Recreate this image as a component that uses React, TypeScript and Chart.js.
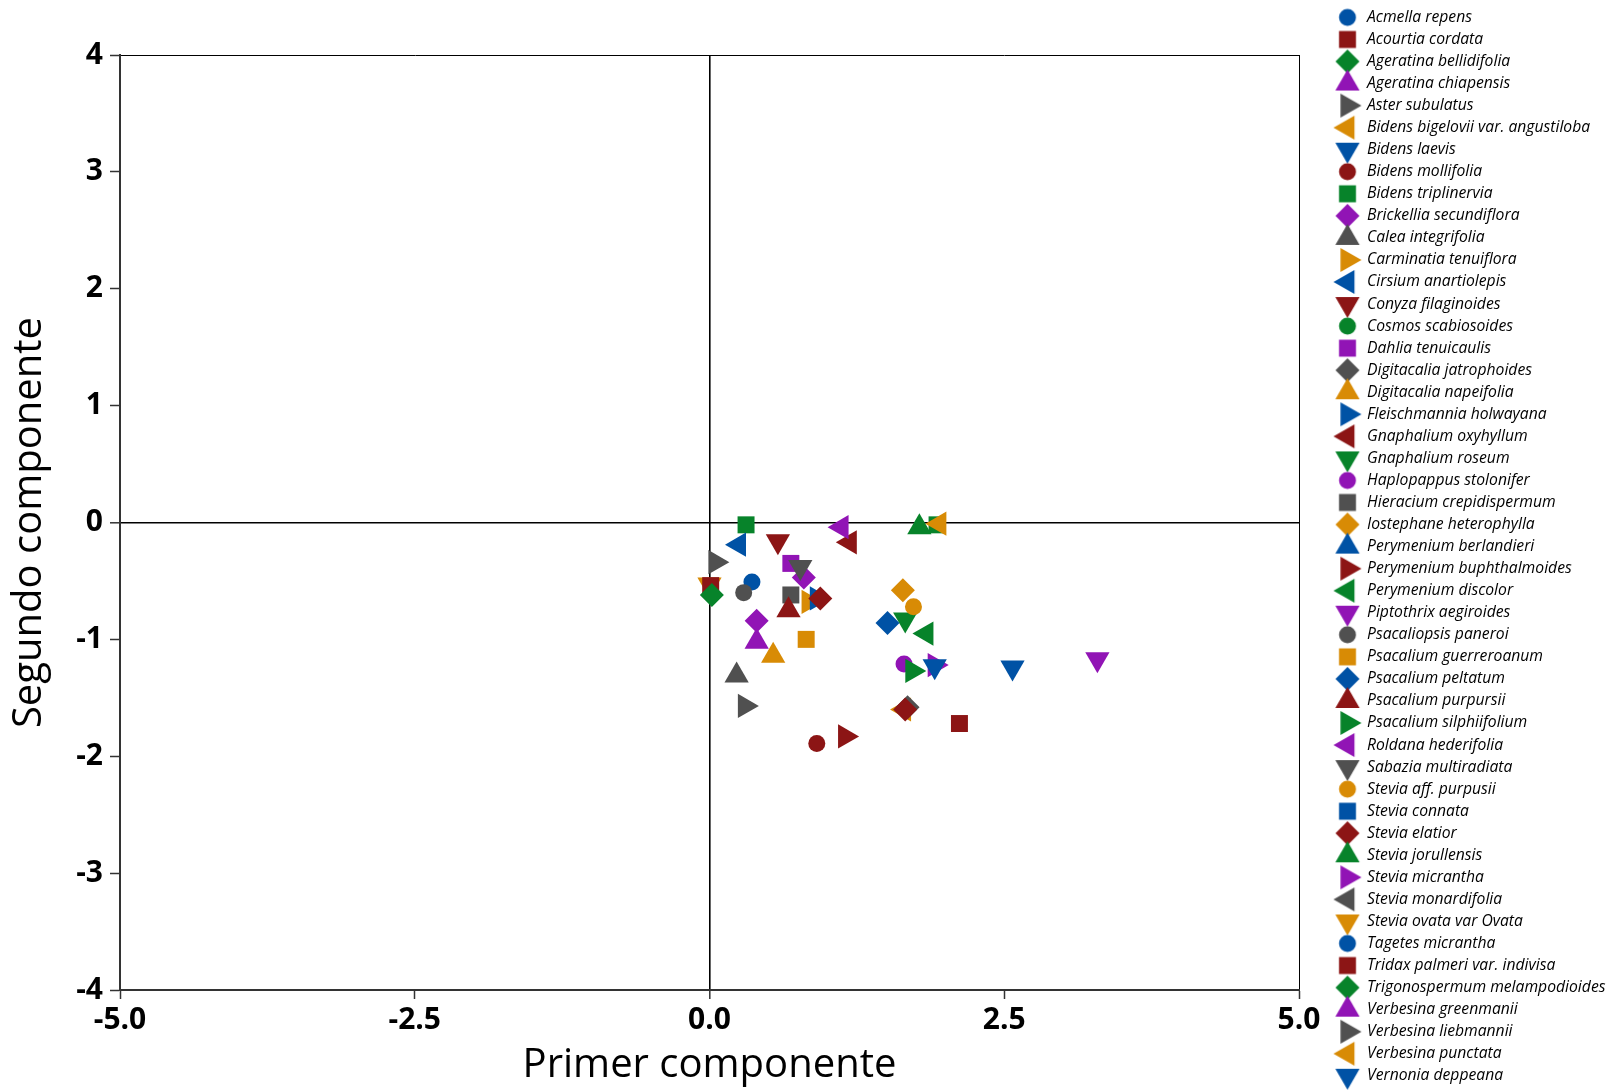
import React, { useEffect, useRef } from 'react';
import { Chart, registerables } from 'chart.js';
import { drawPoint } from 'chart.js/helpers';

Chart.register(...registerables);

// ---------- data ----------
const speciesNames: string[] = [
  'Acmella repens',
  'Acourtia cordata',
  'Ageratina bellidifolia',
  'Ageratina chiapensis',
  'Aster subulatus',
  'Bidens bigelovii var. angustiloba',
  'Bidens laevis',
  'Bidens mollifolia',
  'Bidens triplinervia',
  'Brickellia secundiflora',
  'Calea integrifolia',
  'Carminatia tenuiflora',
  'Cirsium anartiolepis',
  'Conyza filaginoides',
  'Cosmos scabiosoides',
  'Dahlia tenuicaulis',
  'Digitacalia jatrophoides',
  'Digitacalia napeifolia',
  'Fleischmannia holwayana',
  'Gnaphalium oxyhyllum',
  'Gnaphalium roseum',
  'Haplopappus stolonifer',
  'Hieracium crepidispermum',
  'Iostephane heterophylla',
  'Perymenium berlandieri',
  'Perymenium buphthalmoides',
  'Perymenium discolor',
  'Piptothrix aegiroides',
  'Psacaliopsis paneroi',
  'Psacalium guerreroanum',
  'Psacalium peltatum',
  'Psacalium purpursii',
  'Psacalium silphiifolium',
  'Roldana hederifolia',
  'Sabazia multiradiata',
  'Stevia aff. purpusii',
  'Stevia connata',
  'Stevia elatior',
  'Stevia jorullensis',
  'Stevia micrantha',
  'Stevia monardifolia',
  'Stevia ovata var Ovata',
  'Tagetes micrantha',
  'Tridax palmeri var. indivisa',
  'Trigonospermum melampodioides',
  'Verbesina greenmanii',
  'Verbesina liebmannii',
  'Verbesina punctata',
  'Vernonia deppeana',
];

// first principal component (x) per species
const pc1: number[][] = [
  [0.36], [2.12], [], [0.40], [0.05], [1.65], [2.57], [0.91], [0.31, 1.93], [0.80, 0.40],
  [0.23], [0.84], [0.25], [0.58], [], [0.69], [1.68], [0.54], [0.91], [1.19],
  [1.66], [1.65], [0.69], [1.64], [], [1.15], [1.84], [3.29], [0.29], [0.82],
  [1.51], [0.67], [1.72], [1.12], [0.77], [1.73], [], [0.94, 1.66], [1.78], [1.91],
  [], [0.00], [], [0.01], [0.02], [], [0.30], [1.95], [1.91],
];

// second principal component (y) per species
const pc2: number[][] = [
  [-0.51], [-1.72], [], [-1.02], [-0.34], [-1.60], [-1.24], [-1.89], [-0.02, -0.02], [-0.47, -0.84],
  [-1.31], [-0.68], [-0.19], [-0.16], [], [-0.35], [-1.58], [-1.14], [-0.65], [-0.17],
  [-0.83], [-1.21], [-0.62], [-0.58], [], [-1.83], [-0.95], [-1.17], [-0.60], [-1.00],
  [-0.86], [-0.75], [-1.27], [-0.04], [-0.38], [-0.72], [], [-0.65, -1.60], [-0.04], [-1.22],
  [], [-0.53], [], [-0.54], [-0.62], [], [-1.57], [-0.01], [-1.23],
];

const xTickValues: number[] = [-5, -2.5, 0, 2.5, 5];
const xTickLabels: string[] = ['-5.0', '-2.5', '0.0', '2.5', '5.0'];
const yTickValues: number[] = [-4, -3, -2, -1, 0, 1, 2, 3, 4];
const yTickLabels: string[] = ['-4', '-3', '-2', '-1', '0', '1', '2', '3', '4'];

// ---------- styles ----------
const palette: string[] = ['#0052A5', '#8C1515', '#07832A', '#9114B5', '#505050', '#D88B05'];
const markerCycle = [
  { style: 'circle', rotation: 0, radius: 8.5 },
  { style: 'rect', rotation: 0, radius: 12 },
  { style: 'rectRot', rotation: 0, radius: 12 },
  { style: 'triangle', rotation: 0, radius: 14 },
  { style: 'triangle', rotation: 90, radius: 14 },
  { style: 'triangle', rotation: 270, radius: 14 },
  { style: 'triangle', rotation: 180, radius: 14 },
];

const FONT = "'Open Sans', 'Noto Sans', sans-serif";
const LEGEND_ICON_SHIFT = 15.25;

function makeIcon(color: string, m: { style: string; rotation: number; radius: number }) {
  const c = document.createElement('canvas');
  c.width = 80;
  c.height = 32;
  const ctx = c.getContext('2d')!;
  ctx.fillStyle = color;
  ctx.strokeStyle = color;
  drawPoint(
    ctx,
    { pointStyle: m.style as any, rotation: m.rotation, radius: m.radius, borderWidth: 0 },
    40 + LEGEND_ICON_SHIFT,
    16
  );
  return c;
}

export default function App() {
  const canvasRef = useRef<HTMLCanvasElement | null>(null);

  useEffect(() => {
    document.body.style.margin = '0';
    const canvas = canvasRef.current;
    if (!canvas) return;

    const icons = speciesNames.map((_, i) => makeIcon(palette[i % 6], markerCycle[i % 7]));

    const datasets = speciesNames.map((name, i) => {
      const m = markerCycle[i % 7];
      const color = palette[i % 6];
      return {
        label: name,
        data: pc1[i].map((x, k) => ({ x, y: pc2[i][k] })),
        pointStyle: m.style,
        pointRotation: m.rotation,
        pointRadius: m.radius,
        pointHoverRadius: m.radius,
        backgroundColor: color,
        borderColor: color,
        pointBorderWidth: 0,
        showLine: false,
        order: -i,
        xAxisID: 'x',
        yAxisID: 'y',
      };
    });

    const chart = new Chart(canvas, {
      type: 'scatter',
      data: { datasets: datasets as any },
      options: {
        animation: false,
        responsive: false,
        devicePixelRatio: 1,
        layout: { padding: { left: 0, top: 0, bottom: 0, right: 4 } },
        plugins: {
          tooltip: { enabled: false },
          legend: {
            display: true,
            position: 'right',
            align: 'end',
            maxWidth: 311,
            labels: {
              usePointStyle: true,
              pointStyleWidth: 53.8,
              padding: 6.35,
              color: '#000',
              font: { family: FONT, style: 'italic', size: 15.7 },
              generateLabels: (ch: any) =>
                ch.data.datasets.map((ds: any, i: number) => ({
                  text: ds.label,
                  pointStyle: icons[i],
                  rotation: 0,
                  fillStyle: ds.backgroundColor,
                  strokeStyle: ds.borderColor,
                  lineWidth: 0,
                  hidden: false,
                  datasetIndex: i,
                  fontColor: '#000',
                })),
            },
          },
        },
        scales: {
          x: {
            type: 'linear',
            position: 'bottom',
            min: -5,
            max: 5,
            afterBuildTicks: (s: any) => {
              s.ticks = xTickValues.map((v) => ({ value: v }));
            },
            ticks: {
              autoSkip: false,
              maxRotation: 0,
              padding: 3,
              color: '#000',
              font: { family: FONT, weight: 'bold', size: 30 },
              callback: (_v: any, idx: number) => xTickLabels[idx],
            },
            grid: {
              drawOnChartArea: true,
              drawTicks: true,
              tickLength: 9,
              tickColor: '#333',
              tickWidth: 1.5,
              color: (c: any) =>
                c.tick && (c.tick.value === 0 || c.tick.value === 5) ? '#000' : 'rgba(0,0,0,0)',
              lineWidth: (c: any) => (c.tick && c.tick.value === 0 ? 1.6 : 1),
            },
            border: { display: true, color: '#333', width: 2 },
            title: {
              display: true,
              text: 'Primer componente',
              color: '#000',
              font: { family: FONT, size: 40 },
              padding: { top: 0, bottom: 0 },
            },
            afterFit: (s: any) => {
              s.height = 100;
            },
          },
          y: {
            type: 'linear',
            position: 'left',
            min: -4,
            max: 4,
            afterBuildTicks: (s: any) => {
              s.ticks = yTickValues.map((v) => ({ value: v }));
            },
            ticks: {
              autoSkip: false,
              padding: 7,
              color: '#000',
              font: { family: FONT, weight: 'bold', size: 30 },
              callback: (_v: any, idx: number) => yTickLabels[idx],
            },
            grid: {
              drawOnChartArea: true,
              drawTicks: true,
              tickLength: 10,
              tickColor: '#333',
              tickWidth: 1.5,
              color: (c: any) =>
                c.tick && (c.tick.value === 0 || c.tick.value === 4) ? '#000' : 'rgba(0,0,0,0)',
              lineWidth: (c: any) => (c.tick && c.tick.value === 0 ? 1.6 : 1),
            },
            border: { display: true, color: '#333', width: 2 },
            title: {
              display: true,
              text: 'Segundo componente',
              color: '#000',
              font: { family: FONT, size: 40 },
              padding: { top: 6, bottom: 0 },
            },
            afterFit: (s: any) => {
              s.width = 120;
            },
          },
          xTop: {
            type: 'linear',
            axis: 'x',
            position: 'top',
            display: true,
            grid: { display: false },
            ticks: { display: false },
            border: { display: false },
            afterFit: (s: any) => {
              s.height = 55;
            },
          },
        } as any,
      },
    });

    return () => {
      chart.destroy();
    };
  }, []);

  return (
    <div style={{ width: 1614, height: 1090, background: '#fff' }}>
      <canvas ref={canvasRef} width={1614} height={1090} style={{ display: 'block' }} />
    </div>
  );
}
